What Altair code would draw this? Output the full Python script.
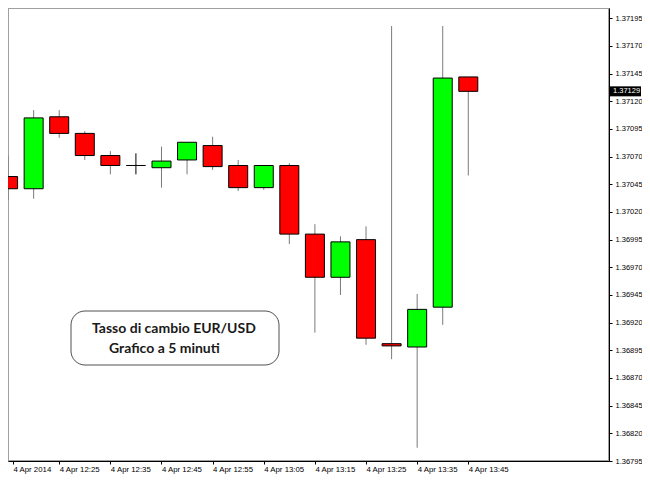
import altair as alt
import pandas as pd

# 5-minute EUR/USD candles, 4 Apr 2014
times = ["12:15", "12:20", "12:25", "12:30", "12:35", "12:40", "12:45", "12:50", "12:55", "13:00",
         "13:05", "13:10", "13:15", "13:20", "13:25", "13:30", "13:35", "13:40", "13:45"]
opens = [1.37052, 1.37041, 1.37106, 1.37091, 1.37071, 1.37062, 1.37060, 1.37067, 1.37080, 1.37062,
         1.37042, 1.37062, 1.37000, 1.36961, 1.36995, 1.36901, 1.36898, 1.36934, 1.37142]
highs = [1.37071, 1.37112, 1.37112, 1.37093, 1.37075, 1.37073, 1.37079, 1.37083, 1.37088, 1.37067,
         1.37062, 1.37064, 1.37009, 1.36998, 1.37007, 1.37188, 1.36946, 1.37188, 1.37142]
lows = [1.37031, 1.37032, 1.37087, 1.37067, 1.37054, 1.37054, 1.37042, 1.37054, 1.37058, 1.37039,
        1.37040, 1.36991, 1.36911, 1.36945, 1.36900, 1.36887, 1.36807, 1.36918, 1.37053]
closes = [1.37041, 1.37105, 1.37091, 1.37071, 1.37062, 1.37062, 1.37066, 1.37083, 1.37061, 1.37042,
          1.37062, 1.37000, 1.36961, 1.36993, 1.36906, 1.36899, 1.36932, 1.37141, 1.37129]

y_ticks = [1.36795, 1.36820, 1.36845, 1.36870, 1.36895, 1.36920, 1.36945, 1.36970, 1.36995, 1.37020,
           1.37045, 1.37070, 1.37095, 1.37120, 1.37145, 1.37170, 1.37195]
x_tick_times = ["12:25", "12:35", "12:45", "12:55", "13:05", "13:15", "13:25", "13:35", "13:45"]
first_label = "4 Apr 2014"
last_price = 1.37129
note_line1 = "Tasso di cambio EUR/USD"
note_line2 = "Grafico a 5 minuti"


def to_min(t):
    h, m = t.split(":")
    return (int(h) - 12) * 60 + int(m)


df = pd.DataFrame({"t": times, "open": opens, "high": highs, "low": lows, "close": closes})
df["m"] = df["t"].map(to_min)
df["dir"] = ["up" if c > o else ("down" if c < o else "flat") for o, c in zip(opens, closes)]
df["wick"] = ["flat" if d == "flat" else "wick" for d in df["dir"]]

W, H = 601, 453
x_start = to_min(times[0]) + 5 * 5 / 26.0
x_end = x_start + W * 5 / 26.0
x_dom = [x_start, x_end]
y_dom = [1.36795, 1.372043]

tick_vals = [x_start] + [to_min(t) for t in x_tick_times]

xs = alt.Scale(domain=x_dom, nice=False, zero=False)
ys = alt.Scale(domain=y_dom, nice=False, zero=False)

x_axis = alt.Axis(values=tick_vals,
                  labelExpr="datum.value < 20 ? '" + first_label + "' : '4 Apr ' + (12 + floor(datum.value/60)) + ':' + format(datum.value % 60, '02d')",
                  title=None, grid=False, domainColor="#000000", tickColor="#000000", tickSize=3,
                  labelAlign="left", labelBaseline="top", labelPadding=1, labelFlush=False,
                  labelOverlap=False, labelFont="Liberation Sans", labelFontSize=7.8, labelColor="#000000")
y_axis = alt.Axis(values=y_ticks, format=".5f", orient="right", title=None, grid=False,
                  domainColor="#000000", tickColor="#000000", tickSize=3, labelPadding=3,
                  labelFont="Liberation Sans", labelFontSize=7.5, labelColor="#000000",
                  labelOverlap=False, labelFlush=False, labelBound=False)

base = alt.Chart(df)

wicks = base.mark_rule(strokeWidth=1, clip=True).encode(
    x=alt.X("m:Q", scale=xs, axis=x_axis),
    y=alt.Y("low:Q", scale=ys, axis=y_axis),
    y2="high:Q",
    color=alt.Color("wick:N", scale=alt.Scale(domain=["wick", "flat"], range=["#7a7a7a", "#000000"]), legend=None),
)

bodies = base.mark_bar(size=19, stroke="#000000", strokeWidth=1, clip=True).encode(
    x=alt.X("m:Q", scale=xs, axis=x_axis),
    y=alt.Y("open:Q", scale=ys, axis=y_axis),
    y2="close:Q",
    fill=alt.Fill("dir:N", scale=alt.Scale(domain=["up", "down", "flat"], range=["#00FF00", "#FF0000", "#000000"]), legend=None),
)

price_df = pd.DataFrame({"p": [last_price], "label": [f"{last_price:.5f}"]})
price_box = alt.Chart(price_df).mark_tick(color="#000000", size=32, thickness=10, opacity=1, clip=False).encode(
    x=alt.value(W + 16),
    y=alt.Y("p:Q", scale=ys, axis=y_axis),
)
price_txt = alt.Chart(price_df).mark_text(align="left", baseline="middle", color="#ffffff",
                                          font="Liberation Sans", fontSize=7.5, clip=False).encode(
    x=alt.value(W + 4),
    y=alt.Y("p:Q", scale=ys, axis=y_axis),
    text="label:N",
)

note_df = pd.DataFrame({"a": [0]})
note_box = alt.Chart(note_df).mark_rect(cornerRadius=14, fill="#ffffff", stroke="#505050", strokeWidth=1).encode(
    x=alt.value(63), x2=alt.value(271), y=alt.value(303), y2=alt.value(357)
)
note1 = alt.Chart(pd.DataFrame({"s": [note_line1]})).mark_text(
    align="left", baseline="middle", font="Lato", fontWeight="bold", fontSize=14, color="#1a1a1a"
).encode(x=alt.value(84), y=alt.value(321), text="s:N")
note2 = alt.Chart(pd.DataFrame({"s": [note_line2]})).mark_text(
    align="left", baseline="middle", font="Lato", fontWeight="bold", fontSize=14, color="#1a1a1a"
).encode(x=alt.value(101), y=alt.value(341), text="s:N")

chart = alt.layer(wicks, bodies, note_box, note1, note2, price_box, price_txt).properties(
    width=W, height=H,
    autosize=alt.AutoSizeParams(type="none"),
    padding={"left": 0, "top": 0, "right": 33, "bottom": 13},
).configure_view(stroke="#a0a0a0", strokeWidth=2).configure_axis(labelOverlap=False)

chart.save("out.html", embed_options={"renderer": "svg", "actions": False})
